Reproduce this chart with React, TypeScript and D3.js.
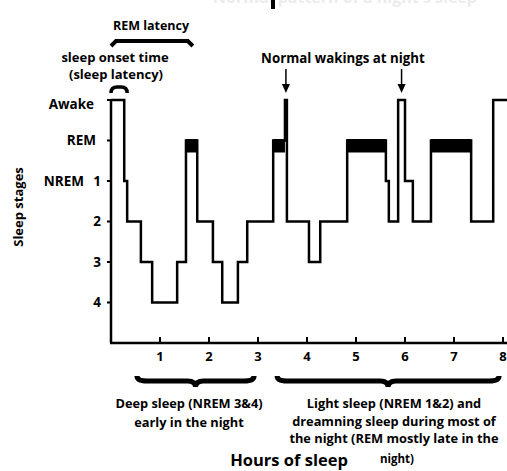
import * as d3 from "d3";

// stage levels, top to bottom ("base" is the x axis line)
const stages = ["Awake", "REM", "1", "2", "3", "4", "base"];
const stageTickLabels = ["Awake", "REM", "1", "2", "3", "4"];

// hypnogram: hour at which each stage starts
const hypnoHours = [0, 0.27, 0.33, 0.61, 0.84, 1.35, 1.53, 1.76, 2.08, 2.27, 2.59, 2.78, 3.31, 3.55, 3.59, 4.04, 4.27, 4.82, 5.61, 5.67, 5.86, 6.0, 6.16, 6.53, 7.35, 7.8, 8.1];
const hypnoStages = ["Awake", "1", "2", "3", "4", "3", "REM", "2", "3", "4", "3", "2", "REM", "Awake", "2", "3", "2", "REM", "1", "2", "Awake", "1", "2", "REM", "2", "Awake", "Awake"];

const hourTicks = [1, 2, 3, 4, 5, 6, 7, 8];
const wakingHours = [3.57, 5.93];

const deepBrace = [0.53, 2.92];
const lightBrace = [3.39, 7.92];

const FONT = "'Open Sans', Lato, sans-serif";

export default function App() {
  const W = 507, H = 471;
  const x = d3.scaleLinear().domain([0, 8]).range([111, 503]);
  const y = d3.scalePoint<string>().domain(stages).range([100, 343]);

  const pts: [number, number][] = hypnoHours.map((h, i) => [x(h), y(hypnoStages[i])!]);
  const line = d3.line().curve(d3.curveStepAfter)(pts) ?? "";

  // REM periods drawn as thick bars
  const remBars: { x0: number; x1: number }[] = [];
  hypnoStages.forEach((s, i) => {
    if (s === "REM" && i < hypnoHours.length - 1) remBars.push({ x0: x(hypnoHours[i]), x1: x(hypnoHours[i + 1]) });
  });

  const brace = (h0: number, h1: number, yy: number) => {
    const a = x(h0), b = x(h1), m = (a + b) / 2;
    return `M${a},${yy - 5} Q${a},${yy} ${a + 10},${yy} L${m - 8},${yy} Q${m},${yy} ${m},${yy + 6} Q${m},${yy} ${m + 8},${yy} L${b - 10},${yy} Q${b},${yy} ${b},${yy - 5}`;
  };

  const yBase = y("base")!;

  return (
    <svg width={W} height={H} style={{ position: "absolute", left: 0, top: 0, background: "#fff" }} fontFamily={FONT} fontWeight="bold">
      {/* cut-off title */}
      <text x={345} y={3} textAnchor="middle" fontSize={16} fill="#ececec">Normal pattern of a night's sleep</text>
      <rect x={271} y={0} width={4} height={9} fill="#000" />

      {/* axes */}
      <line x1={x(0)} x2={x(0)} y1={y("Awake")} y2={yBase} stroke="#000" strokeWidth={2.5} />
      <line x1={x(0) - 1} x2={W} y1={yBase} y2={yBase} stroke="#000" strokeWidth={2.5} />
      {hourTicks.map((t) => (
        <g key={t}>
          <line x1={x(t)} x2={x(t)} y1={yBase - 6} y2={yBase} stroke="#000" strokeWidth={2} />
          <text x={x(t)} y={361} textAnchor="middle" fontSize={13}>{t}</text>
        </g>
      ))}
      {stageTickLabels.map((s) => (
        <g key={s}>
          <line x1={x(0) - 4} x2={x(0)} y1={y(s)} y2={y(s)} stroke="#000" strokeWidth={2} />
          <text x={s === "Awake" ? 94 : s === "REM" ? 96 : 101} y={y(s)! + (s === "Awake" ? 9 : 4.5)} textAnchor="end" fontSize={13.5}>{s}</text>
        </g>
      ))}
      <text x={84} y={y("1")! + 4.5} textAnchor="end" fontSize={13.5}>NREM</text>
      <text transform={`translate(23,207) rotate(-90)`} textAnchor="middle" fontSize={13}>Sleep stages</text>

      {/* hypnogram */}
      {remBars.map((r, i) => (
        <rect key={i} x={r.x0} y={y("REM")! - 1.5} width={r.x1 - r.x0} height={13.5} fill="#000" />
      ))}
      <path d={line} fill="none" stroke="#000" strokeWidth={2.5} strokeLinejoin="miter" />

      {/* REM latency */}
      <text x={151} y={30} textAnchor="middle" fontSize={12.5}>REM latency</text>
      <path d={`M${x(0)},${46} L${x(0) + 5},${41} L${x(1.67) - 5},${41} L${x(1.67)},${46}`} fill="none" stroke="#000" strokeWidth={4} />

      {/* sleep onset */}
      <text x={115} y={62} textAnchor="middle" fontSize={13}>sleep onset time</text>
      <text x={116} y={79} textAnchor="middle" fontSize={13}>(sleep latency)</text>
      <path d={`M${x(0)},93 Q${x(0)},87 ${x(0) + 6},87 L${x(0.33) - 6},87 Q${x(0.33)},87 ${x(0.33)},93`} fill="none" stroke="#000" strokeWidth={3.5} />

      {/* wakings */}
      <text x={343} y={63} textAnchor="middle" fontSize={13.3}>Normal wakings at night</text>
      {wakingHours.map((h) => (
        <g key={h}>
          <line x1={x(h)} x2={x(h)} y1={69} y2={86} stroke="#000" strokeWidth={1.5} />
          <path d={`M${x(h) - 4},84 L${x(h) + 4},84 L${x(h)},93 Z`} fill="#000" />
        </g>
      ))}

      {/* braces */}
      <path d={brace(deepBrace[0], deepBrace[1], 381)} fill="none" stroke="#000" strokeWidth={5} />
      <path d={brace(lightBrace[0], lightBrace[1], 381)} fill="none" stroke="#000" strokeWidth={5} />

      <g fontSize={12.8} textAnchor="middle">
        <text x={189} y={408}>Deep sleep (NREM 3&amp;4)</text>
        <text x={189} y={427}>early in the night</text>
        <text x={394} y={408}>Light sleep (NREM 1&amp;2) and</text>
        <text x={394} y={426}>dreamning sleep during most of</text>
        <text x={394} y={443}>the night (REM mostly late in the</text>
        <text x={397} y={463} fontSize={11.5}>night)</text>
      </g>
      <text x={289} y={466} textAnchor="middle" fontSize={16.5}>Hours of sleep</text>
    </svg>
  );
}
